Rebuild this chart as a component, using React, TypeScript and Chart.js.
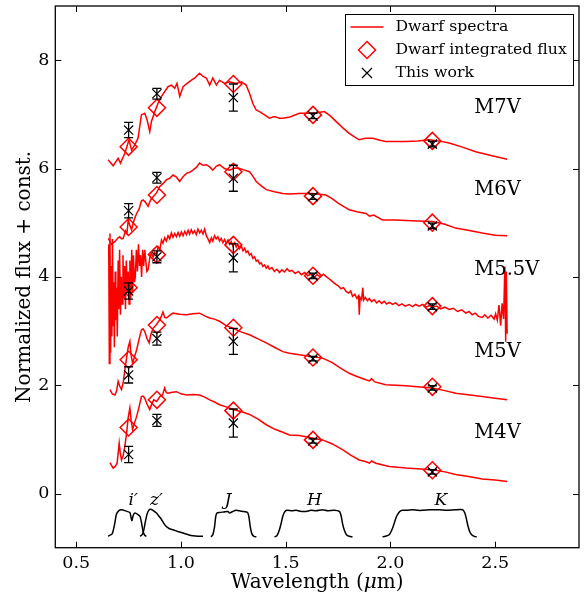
import React, { useEffect, useRef } from "react";
import { Chart, registerables } from "chart.js";

Chart.register(...registerables);

const FONT = "'DejaVu Serif', 'Liberation Serif', serif";

const xTicks = [0.5, 1.0, 1.5, 2.0, 2.5];
const yTicks = [0, 2, 4, 6, 8];

const bandWave = [0.75, 0.885, 1.25, 1.63, 2.2];
const bandNames = ["i\u2032", "z\u2032", "J", "H", "K"];
const bandLabelX = [0.772, 0.883, 1.224, 1.637, 2.24];
const bandLabelY = -0.13;

const typeNames = ["M7V", "M6V", "M5.5V", "M5V", "M4V"];
const typeLabelX = 2.4;
const typeLabelY = [7.12, 5.61, 4.13, 2.62, 1.12];

// Dwarf integrated flux (diamonds) per type, at bandWave
const dwarfM7V = [6.4, 7.12, 7.56, 6.99, 6.51];
const dwarfM6V = [4.92, 5.51, 5.94, 5.49, 5.0];
const dwarfM55V = [3.8, 4.41, 4.59, 4.02, 3.46];
const dwarfM5V = [2.47, 3.11, 3.06, 2.51, 1.97];
const dwarfM4V = [1.22, 1.73, 1.53, 0.99, 0.43];

// This work (crosses) and errors
const workM7V = [6.71, 7.38, 7.31, 6.97, 6.45];
const errM7V = [0.14, 0.1, 0.25, 0.05, 0.05];
const workM6V = [5.22, 5.83, 5.82, 5.48, 4.94];
const errM6V = [0.13, 0.1, 0.24, 0.05, 0.05];
const workM55V = [3.74, 4.37, 4.35, 4.02, 3.45];
const errM55V = [0.15, 0.11, 0.26, 0.05, 0.05];
const workM5V = [2.19, 2.86, 2.81, 2.49, 1.95];
const errM5V = [0.15, 0.12, 0.24, 0.04, 0.04];
const workM4V = [0.72, 1.35, 1.3, 0.97, 0.4];
const errM4V = [0.15, 0.11, 0.26, 0.04, 0.04];

// Spectra
const m7vWave = [0.652, 0.676, 0.7, 0.711, 0.732, 0.752, 0.764, 0.78, 0.795, 0.811, 0.827, 0.838, 0.851, 0.859, 0.875, 0.89, 0.907, 0.922, 0.938, 0.954, 0.97, 0.981, 0.994, 1.01, 1.029, 1.05, 1.065, 1.089, 1.105, 1.121, 1.137, 1.152, 1.169, 1.184, 1.208, 1.232, 1.264, 1.288, 1.311, 1.327, 1.343, 1.359, 1.375, 1.399, 1.422, 1.446, 1.47, 1.486, 1.52, 1.565, 1.613, 1.65, 1.684, 1.71, 1.74, 1.77, 1.803, 1.83, 1.851, 1.88, 1.915, 1.95, 1.978, 2.02, 2.073, 2.13, 2.184, 2.23, 2.28, 2.34, 2.407, 2.48, 2.557];
const m7vFlux = [6.16, 6.05, 6.19, 6.1, 6.28, 6.53, 6.34, 6.44, 6.56, 6.99, 7.02, 6.9, 6.68, 6.87, 7.05, 7.2, 7.33, 7.42, 7.51, 7.54, 7.48, 7.57, 7.33, 7.51, 7.57, 7.63, 7.67, 7.76, 7.7, 7.67, 7.54, 7.67, 7.54, 7.63, 7.57, 7.6, 7.57, 7.6, 7.54, 7.39, 7.2, 7.08, 7.05, 6.99, 6.93, 6.96, 6.93, 6.93, 6.95, 7.02, 7.02, 7.03, 7.05, 6.98, 6.87, 6.76, 6.65, 6.58, 6.53, 6.56, 6.56, 6.52, 6.5, 6.5, 6.5, 6.51, 6.53, 6.51, 6.47, 6.4, 6.31, 6.24, 6.17];

const m6vWave = [0.653, 0.668, 0.684, 0.7, 0.708, 0.716, 0.724, 0.735, 0.742, 0.748, 0.756, 0.764, 0.776, 0.788, 0.8, 0.811, 0.819, 0.83, 0.843, 0.855, 0.867, 0.883, 0.899, 0.914, 0.93, 0.946, 0.962, 0.978, 0.994, 1.01, 1.026, 1.041, 1.057, 1.073, 1.089, 1.105, 1.121, 1.137, 1.152, 1.168, 1.184, 1.208, 1.232, 1.256, 1.279, 1.303, 1.327, 1.343, 1.359, 1.383, 1.407, 1.446, 1.486, 1.518, 1.565, 1.629, 1.692, 1.72, 1.75, 1.78, 1.803, 1.84, 1.883, 1.9, 1.92, 1.962, 2.02, 2.073, 2.13, 2.2, 2.26, 2.311, 2.37, 2.438, 2.5, 2.557];
const m6vFlux = [4.71, 4.6, 4.65, 4.72, 4.74, 4.7, 4.71, 4.85, 4.8, 5.05, 4.95, 4.87, 5.05, 5.17, 5.25, 5.4, 5.42, 5.38, 5.3, 5.42, 5.48, 5.55, 5.67, 5.72, 5.79, 5.82, 5.88, 5.84, 5.76, 5.85, 5.91, 5.93, 5.97, 6.02, 6.1, 6.06, 6.07, 6.03, 5.97, 6.04, 6.07, 6.0, 5.97, 6.01, 6.0, 5.97, 5.94, 5.86, 5.76, 5.68, 5.61, 5.57, 5.54, 5.53, 5.54, 5.54, 5.51, 5.45, 5.36, 5.29, 5.24, 5.2, 5.17, 5.12, 5.14, 5.05, 5.05, 5.04, 5.03, 5.02, 4.97, 4.9, 4.86, 4.81, 4.77, 4.76];

const m55vWave = [0.655, 0.658, 0.661, 0.664, 0.667, 0.67, 0.673, 0.676, 0.679, 0.682, 0.686, 0.689, 0.692, 0.696, 0.7, 0.703, 0.707, 0.711, 0.715, 0.719, 0.723, 0.727, 0.731, 0.735, 0.739, 0.743, 0.748, 0.752, 0.756, 0.76, 0.765, 0.769, 0.773, 0.778, 0.782, 0.787, 0.792, 0.797, 0.802, 0.807, 0.812, 0.817, 0.822, 0.827, 0.832, 0.837, 0.843, 0.851, 0.859, 0.867, 0.875, 0.883, 0.891, 0.899, 0.907, 0.914, 0.922, 0.93, 0.938, 0.946, 0.954, 0.962, 0.97, 0.978, 0.986, 0.994, 1.002, 1.01, 1.018, 1.026, 1.034, 1.041, 1.049, 1.057, 1.065, 1.073, 1.081, 1.089, 1.097, 1.105, 1.113, 1.121, 1.129, 1.137, 1.145, 1.152, 1.16, 1.168, 1.176, 1.184, 1.192, 1.2, 1.208, 1.216, 1.224, 1.232, 1.24, 1.248, 1.256, 1.264, 1.272, 1.28, 1.288, 1.296, 1.304, 1.311, 1.319, 1.327, 1.335, 1.343, 1.351, 1.359, 1.367, 1.375, 1.383, 1.391, 1.399, 1.407, 1.415, 1.422, 1.434, 1.446, 1.458, 1.47, 1.482, 1.494, 1.506, 1.518, 1.53, 1.545, 1.56, 1.575, 1.59, 1.605, 1.62, 1.635, 1.65, 1.665, 1.68, 1.692, 1.705, 1.718, 1.73, 1.74, 1.752, 1.764, 1.776, 1.788, 1.8, 1.81, 1.819, 1.83, 1.84, 1.848, 1.851, 1.855, 1.862, 1.868, 1.872, 1.88, 1.89, 1.899, 1.91, 1.922, 1.934, 1.946, 1.958, 1.97, 1.982, 1.995, 2.01, 2.025, 2.04, 2.055, 2.07, 2.089, 2.105, 2.12, 2.137, 2.153, 2.17, 2.185, 2.2, 2.22, 2.24, 2.26, 2.28, 2.3, 2.32, 2.34, 2.36, 2.375, 2.39, 2.405, 2.42, 2.438, 2.45, 2.465, 2.48, 2.495, 2.502, 2.51, 2.518, 2.526, 2.533, 2.54, 2.546, 2.55, 2.553, 2.557];
const m55vFlux = [4.6, 2.4, 4.8, 2.6, 4.2, 2.9, 4.7, 3.1, 3.9, 2.7, 4.1, 3.2, 3.8, 2.9, 4.3, 3.4, 4.5, 3.3, 4.0, 3.5, 4.4, 3.6, 4.2, 3.4, 4.3, 3.7, 4.1, 3.5, 4.3, 3.6, 4.5, 3.7, 4.4, 3.9, 4.0, 4.5, 4.1, 4.6, 4.2, 4.4, 4.0, 4.5, 4.2, 4.5, 4.3, 4.1, 4.13, 4.35, 4.44, 4.36, 4.45, 4.41, 4.55, 4.5, 4.68, 4.62, 4.72, 4.66, 4.76, 4.7, 4.81, 4.73, 4.8, 4.74, 4.82, 4.75, 4.83, 4.76, 4.84, 4.78, 4.86, 4.79, 4.87, 4.8, 4.85, 4.78, 4.88, 4.81, 4.86, 4.79, 4.88, 4.76, 4.7, 4.63, 4.72, 4.66, 4.76, 4.7, 4.74, 4.66, 4.71, 4.63, 4.69, 4.62, 4.68, 4.6, 4.65, 4.57, 4.63, 4.55, 4.6, 4.52, 4.57, 4.48, 4.53, 4.45, 4.48, 4.4, 4.43, 4.34, 4.37, 4.29, 4.31, 4.24, 4.26, 4.19, 4.22, 4.16, 4.2, 4.14, 4.17, 4.1, 4.14, 4.08, 4.13, 4.09, 4.15, 4.1, 4.12, 4.06, 4.1, 4.04, 4.08, 4.02, 4.05, 3.99, 4.04, 4.0, 4.05, 4.01, 3.97, 3.93, 3.89, 3.86, 3.83, 3.78, 3.8, 3.73, 3.7, 3.74, 3.64, 3.68, 3.6, 3.65, 3.3, 3.62, 3.58, 3.8, 3.57, 3.62, 3.56, 3.6, 3.54, 3.58, 3.52, 3.56, 3.51, 3.55, 3.5, 3.53, 3.49, 3.52, 3.47, 3.5, 3.46, 3.49, 3.45, 3.49, 3.46, 3.49, 3.44, 3.47, 3.44, 3.46, 3.41, 3.44, 3.4, 3.42, 3.36, 3.39, 3.33, 3.36, 3.3, 3.33, 3.27, 3.25, 3.3, 3.24, 3.29, 3.22, 3.32, 3.2, 3.48, 3.1, 3.51, 3.22, 4.19, 2.8, 4.1, 2.95];

const m5vWave = [0.661, 0.672, 0.685, 0.693, 0.7, 0.708, 0.716, 0.724, 0.732, 0.74, 0.748, 0.756, 0.762, 0.769, 0.778, 0.788, 0.8, 0.811, 0.819, 0.827, 0.838, 0.848, 0.857, 0.867, 0.883, 0.899, 0.907, 0.914, 0.922, 0.93, 0.946, 0.962, 0.994, 1.026, 1.057, 1.089, 1.113, 1.137, 1.16, 1.184, 1.216, 1.248, 1.29, 1.327, 1.37, 1.407, 1.446, 1.486, 1.518, 1.565, 1.62, 1.676, 1.72, 1.76, 1.803, 1.84, 1.883, 1.9, 1.91, 1.925, 1.978, 2.073, 2.2, 2.26, 2.311, 2.38, 2.438, 2.5, 2.557];
const m5vFlux = [1.92, 1.84, 1.82, 1.9, 2.07, 1.98, 1.92, 2.05, 2.28, 2.5, 2.7, 2.81, 2.55, 2.41, 2.52, 2.65, 2.85, 3.02, 3.04, 2.99, 2.86, 2.78, 2.95, 3.05, 3.12, 3.21, 3.28, 3.35, 3.25, 3.24, 3.29, 3.33, 3.31, 3.3, 3.32, 3.33, 3.28, 3.24, 3.22, 3.18, 3.1, 3.05, 2.98, 2.93, 2.85, 2.78, 2.7, 2.62, 2.59, 2.56, 2.53, 2.5, 2.42, 2.32, 2.22, 2.16, 2.1, 2.08, 2.12, 2.06, 2.01, 1.99, 1.95, 1.9, 1.85, 1.82, 1.79, 1.76, 1.73];

const m4vWave = [0.661, 0.676, 0.686, 0.695, 0.705, 0.71, 0.716, 0.724, 0.732, 0.74, 0.748, 0.756, 0.762, 0.769, 0.778, 0.788, 0.8, 0.811, 0.819, 0.827, 0.838, 0.851, 0.86, 0.87, 0.884, 0.899, 0.912, 0.922, 0.93, 0.938, 0.958, 0.978, 1.0, 1.026, 1.057, 1.089, 1.113, 1.137, 1.16, 1.184, 1.216, 1.248, 1.29, 1.327, 1.37, 1.407, 1.446, 1.486, 1.518, 1.565, 1.62, 1.676, 1.72, 1.771, 1.81, 1.851, 1.88, 1.9, 1.91, 1.93, 1.994, 2.073, 2.2, 2.26, 2.311, 2.38, 2.438, 2.5, 2.557];
const m4vFlux = [0.57, 0.47, 0.5, 0.56, 0.93, 0.75, 0.62, 0.7, 0.87, 1.1, 1.4, 1.58, 1.35, 1.18, 1.3, 1.42, 1.6, 1.79, 1.8, 1.76, 1.65, 1.55, 1.65, 1.73, 1.7, 1.79, 1.82, 1.95, 1.86, 1.85, 1.87, 1.88, 1.84, 1.82, 1.83, 1.82, 1.78, 1.73, 1.69, 1.64, 1.6, 1.55, 1.51, 1.46, 1.37, 1.27, 1.19, 1.13, 1.08, 1.07, 1.03, 0.99, 0.92, 0.81, 0.71, 0.62, 0.59, 0.56, 0.6, 0.56, 0.5, 0.47, 0.44, 0.4, 0.35, 0.31, 0.27, 0.25, 0.22];

// Filter transmission curves
const iWave = [0.652, 0.672, 0.684, 0.692, 0.705, 0.716, 0.735, 0.756, 0.762, 0.766, 0.772, 0.78, 0.795, 0.805, 0.812, 0.819, 0.827, 0.835];
const iTrans = [-0.79, -0.74, -0.55, -0.38, -0.31, -0.3, -0.32, -0.35, -0.45, -0.5, -0.4, -0.36, -0.39, -0.43, -0.55, -0.7, -0.77, -0.79];
const zWave = [0.805, 0.815, 0.822, 0.83, 0.838, 0.846, 0.855, 0.866, 0.883, 0.895, 0.907, 0.918, 0.93, 0.945, 0.962, 0.985, 1.01, 1.035, 1.057, 1.08, 1.105];
const zTrans = [-0.79, -0.76, -0.68, -0.52, -0.38, -0.31, -0.29, -0.31, -0.36, -0.42, -0.48, -0.55, -0.61, -0.65, -0.67, -0.7, -0.73, -0.76, -0.78, -0.79, -0.79];
const jWave = [1.143, 1.152, 1.16, 1.166, 1.172, 1.184, 1.205, 1.224, 1.232, 1.248, 1.264, 1.28, 1.295, 1.318, 1.325, 1.331, 1.338, 1.348, 1.36];
const jTrans = [-0.8, -0.76, -0.62, -0.42, -0.36, -0.35, -0.34, -0.33, -0.36, -0.33, -0.31, -0.32, -0.33, -0.35, -0.45, -0.62, -0.74, -0.79, -0.8];
const hWave = [1.446, 1.458, 1.47, 1.478, 1.486, 1.495, 1.505, 1.53, 1.55, 1.575, 1.597, 1.62, 1.645, 1.676, 1.7, 1.73, 1.756, 1.765, 1.771, 1.78, 1.79, 1.803, 1.819];
const hTrans = [-0.8, -0.78, -0.67, -0.55, -0.42, -0.34, -0.31, -0.32, -0.31, -0.33, -0.33, -0.31, -0.32, -0.3, -0.32, -0.31, -0.33, -0.42, -0.55, -0.68, -0.76, -0.79, -0.8];
const kWave = [1.962, 1.975, 1.994, 2.008, 2.018, 2.026, 2.035, 2.045, 2.057, 2.08, 2.105, 2.13, 2.153, 2.19, 2.232, 2.27, 2.31, 2.345, 2.355, 2.362, 2.37, 2.378, 2.388, 2.4, 2.412];
const kTrans = [-0.8, -0.79, -0.76, -0.66, -0.55, -0.45, -0.38, -0.33, -0.31, -0.31, -0.3, -0.31, -0.31, -0.3, -0.3, -0.31, -0.3, -0.3, -0.36, -0.46, -0.6, -0.7, -0.76, -0.79, -0.8];

const legendLabels = ["Dwarf spectra", "Dwarf integrated flux", "This work"];

const spectra = [
  [m7vWave, m7vFlux],
  [m6vWave, m6vFlux],
  [m55vWave, m55vFlux],
  [m5vWave, m5vFlux],
  [m4vWave, m4vFlux],
];
const filters = [
  [iWave, iTrans],
  [zWave, zTrans],
  [jWave, jTrans],
  [hWave, hTrans],
  [kWave, kTrans],
];
const dwarfSets = [dwarfM7V, dwarfM6V, dwarfM55V, dwarfM5V, dwarfM4V];
const workSets = [workM7V, workM6V, workM55V, workM5V, workM4V];
const errSets = [errM7V, errM6V, errM55V, errM5V, errM4V];

const zip = (xs: number[], ys: number[]) => xs.map((x, i) => ({ x, y: ys[i] }));

const RED = "#ff0000";

const overlay = {
  id: "overlay",
  afterDatasetsDraw(chart: any) {
    const { ctx, scales } = chart;
    const x = scales.x;
    const y = scales.y;
    ctx.save();
    ctx.strokeStyle = "#000";
    ctx.lineWidth = 1.3;
    workSets.forEach((vals, s) => {
      vals.forEach((v, i) => {
        const px = x.getPixelForValue(bandWave[i]);
        const top = y.getPixelForValue(v + errSets[s][i]);
        const bot = y.getPixelForValue(v - errSets[s][i]);
        ctx.beginPath();
        ctx.moveTo(px, top);
        ctx.lineTo(px, bot);
        ctx.moveTo(px - 4.5, top);
        ctx.lineTo(px + 4.5, top);
        ctx.moveTo(px - 4.5, bot);
        ctx.lineTo(px + 4.5, bot);
        ctx.stroke();
      });
    });
    ctx.restore();
  },
  afterDraw(chart: any) {
    const { ctx, chartArea: a, scales } = chart;
    const x = scales.x;
    const y = scales.y;
    ctx.save();
    // frame
    ctx.strokeStyle = "#000";
    ctx.lineWidth = 1.3;
    ctx.strokeRect(a.left, a.top, a.right - a.left, a.bottom - a.top);
    // inward ticks
    ctx.lineWidth = 1;
    ctx.beginPath();
    xTicks.forEach((v) => {
      const px = Math.round(x.getPixelForValue(v)) + 0.5;
      ctx.moveTo(px, a.bottom);
      ctx.lineTo(px, a.bottom - 6);
      ctx.moveTo(px, a.top);
      ctx.lineTo(px, a.top + 6);
    });
    yTicks.forEach((v) => {
      const py = Math.round(y.getPixelForValue(v)) + 0.5;
      ctx.moveTo(a.left, py);
      ctx.lineTo(a.left + 6, py);
      ctx.moveTo(a.right, py);
      ctx.lineTo(a.right - 6, py);
    });
    ctx.stroke();

    // x axis title with italic mu
    ctx.fillStyle = "#000";
    ctx.textBaseline = "middle";
    ctx.textAlign = "left";
    const t1 = "Wavelength (";
    const t2 = "\u03bc";
    const t3 = "m)";
    ctx.font = `20px ${FONT}`;
    const w1 = ctx.measureText(t1).width;
    const w3 = ctx.measureText(t3).width;
    ctx.font = `italic 20px ${FONT}`;
    const w2 = ctx.measureText(t2).width;
    const cx = (a.left + a.right) / 2;
    let tx = cx - (w1 + w2 + w3) / 2;
    const ty = 583;
    ctx.font = `20px ${FONT}`;
    ctx.fillText(t1, tx, ty);
    tx += w1;
    ctx.font = `italic 20px ${FONT}`;
    ctx.fillText(t2, tx, ty);
    tx += w2;
    ctx.font = `20px ${FONT}`;
    ctx.fillText(t3, tx, ty);

    // spectral type labels
    ctx.font = `19.5px ${FONT}`;
    ctx.textAlign = "left";
    typeNames.forEach((t, i) => {
      ctx.fillText(t, x.getPixelForValue(typeLabelX), y.getPixelForValue(typeLabelY[i]));
    });

    // band labels
    ctx.font = `italic 17px ${FONT}`;
    ctx.textAlign = "center";
    bandNames.forEach((b, i) => {
      ctx.fillText(b, x.getPixelForValue(bandLabelX[i]), y.getPixelForValue(bandLabelY));
    });

    // legend
    const lw = 228;
    const lh = 71;
    const lx = a.right - 6.5 - lw;
    const ly = a.top + 8;
    ctx.fillStyle = "#fff";
    ctx.fillRect(lx, ly, lw, lh);
    ctx.strokeStyle = "#000";
    ctx.lineWidth = 1;
    ctx.strokeRect(Math.round(lx) + 0.5, Math.round(ly) + 0.5, lw, lh);
    const rowY = [ly + 13, ly + 36, ly + 59];
    const mx = lx + 22.5;
    ctx.strokeStyle = RED;
    ctx.lineWidth = 1.5;
    ctx.beginPath();
    ctx.moveTo(lx + 6, rowY[0]);
    ctx.lineTo(lx + 39, rowY[0]);
    ctx.stroke();
    ctx.beginPath();
    ctx.moveTo(mx - 8.5, rowY[1]);
    ctx.lineTo(mx, rowY[1] - 8.5);
    ctx.lineTo(mx + 8.5, rowY[1]);
    ctx.lineTo(mx, rowY[1] + 8.5);
    ctx.closePath();
    ctx.stroke();
    ctx.strokeStyle = "#000";
    ctx.lineWidth = 1.2;
    ctx.beginPath();
    ctx.moveTo(mx - 5, rowY[2] - 5);
    ctx.lineTo(mx + 5, rowY[2] + 5);
    ctx.moveTo(mx + 5, rowY[2] - 5);
    ctx.lineTo(mx - 5, rowY[2] + 5);
    ctx.stroke();
    ctx.fillStyle = "#000";
    ctx.font = `15.7px ${FONT}`;
    ctx.textAlign = "left";
    ctx.textBaseline = "middle";
    legendLabels.forEach((t, i) => ctx.fillText(t, lx + 51, rowY[i]));
    ctx.restore();
  },
};

export default function App() {
  const ref = useRef<HTMLCanvasElement | null>(null);
  useEffect(() => {
    document.body.style.margin = "0";
    const canvas = ref.current;
    if (!canvas) return;
    const datasets: any[] = [];
    workSets.forEach((vals) => {
      datasets.push({
        data: zip(bandWave, vals),
        showLine: false,
        pointStyle: "crossRot",
        pointRadius: 6.5,
        pointBorderColor: "#000",
        pointBorderWidth: 1.2,
        pointBackgroundColor: "#000",
        order: 0,
      });
    });
    dwarfSets.forEach((vals) => {
      datasets.push({
        data: zip(bandWave, vals),
        showLine: false,
        pointStyle: "rectRot",
        pointRadius: 8.5,
        pointBorderColor: RED,
        pointBorderWidth: 1.5,
        pointBackgroundColor: "rgba(0,0,0,0)",
        order: 1,
      });
    });
    spectra.forEach(([w, f]) => {
      datasets.push({
        data: zip(w, f),
        showLine: true,
        borderColor: RED,
        borderWidth: 1.5,
        pointRadius: 0,
        tension: 0,
        order: 2,
      });
    });
    filters.forEach(([w, f]) => {
      datasets.push({
        data: zip(w, f),
        showLine: true,
        borderColor: "#000",
        borderWidth: 1.5,
        pointRadius: 0,
        tension: 0.2,
        order: 3,
      });
    });

    Chart.defaults.font.family = FONT;
    const chart = new Chart(canvas, {
      type: "scatter",
      data: { datasets },
      options: {
        animation: false,
        responsive: false,
        maintainAspectRatio: false,
        events: [],
        layout: { autoPadding: false, padding: { left: 0, right: 8, top: 6, bottom: 0 } },
        plugins: {
          legend: { display: false },
          tooltip: { enabled: false },
        },
        scales: {
          x: {
            type: "linear",
            min: 0.4,
            max: 2.9,
            grid: { display: false, drawTicks: false, tickLength: 0 },
            border: { display: false },
            afterBuildTicks: (s: any) => {
              s.ticks = xTicks.map((v) => ({ value: v }));
            },
            afterFit: (s: any) => {
              s.height = 49.3;
              s.paddingLeft = 0;
              s.paddingRight = 0;
              s.paddingTop = 0;
              s.paddingBottom = 0;
            },
            ticks: {
              color: "#000",
              padding: 5,
              font: { size: 17.5, family: FONT },
              maxRotation: 0,
              autoSkip: false,
              callback: (v: any) => Number(v).toFixed(1),
            },
            title: { display: false },
          },
          y: {
            type: "linear",
            min: -1,
            max: 9,
            grid: { display: false, drawTicks: false, tickLength: 0 },
            border: { display: false },
            afterBuildTicks: (s: any) => {
              s.ticks = yTicks.map((v) => ({ value: v }));
            },
            afterFit: (s: any) => {
              s.width = 55.3;
              s.paddingLeft = 0;
              s.paddingRight = 0;
              s.paddingTop = 0;
              s.paddingBottom = 0;
            },
            ticks: {
              color: "#000",
              padding: 6,
              font: { size: 17.5, family: FONT },
              autoSkip: false,
              callback: (v: any) => String(v),
            },
            title: {
              display: true,
              text: "Normalized flux + const.",
              color: "#000",
              font: { size: 20, family: FONT },
              padding: { top: 13, bottom: 0 },
            },
          },
        },
      },
      plugins: [overlay],
    });
    return () => chart.destroy();
  }, []);
  return (
    <div style={{ width: 587, height: 597 }}>
      <canvas ref={ref} width={587} height={597} style={{ width: 587, height: 597, display: "block" }} />
    </div>
  );
}
